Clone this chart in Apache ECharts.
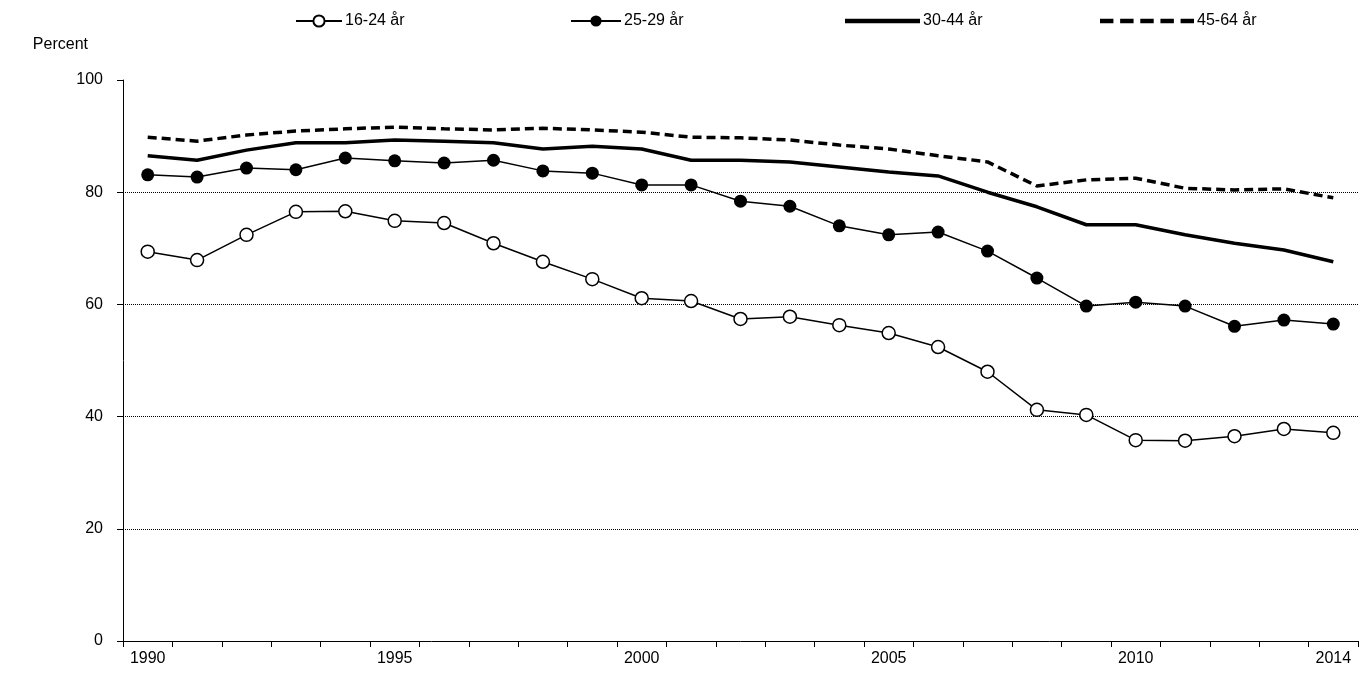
<!DOCTYPE html>
<html><head><meta charset="utf-8">
<script src="https://cdn.jsdelivr.net/npm/echarts@6/dist/echarts.min.js"></script>
<style>html,body{margin:0;background:#fff}#c{width:1368px;height:679px}</style>
</head><body><div id="c"></div>
<script>
var years = [];
for (var y = 1990; y <= 2014; y++) years.push(String(y));
var shownYears = ['1990', '1995', '2000', '2005', '2010', '2014'];
var gridLevels = [20, 40, 60, 80];
var s1624 = [69.4, 67.9, 72.4, 76.5, 76.6, 74.9, 74.5, 70.9, 67.6, 64.5, 61.1, 60.6, 57.4, 57.8, 56.3, 54.9, 52.4, 48.0, 41.2, 40.3, 35.8, 35.7, 36.5, 37.8, 37.1];
var s2529 = [83.1, 82.7, 84.3, 84.0, 86.1, 85.6, 85.2, 85.7, 83.8, 83.4, 81.3, 81.3, 78.4, 77.5, 74.0, 72.4, 72.9, 69.5, 64.7, 59.7, 60.4, 59.7, 56.1, 57.2, 56.5];
var s3044 = [86.5, 85.7, 87.5, 88.8, 88.8, 89.3, 89.1, 88.8, 87.7, 88.2, 87.7, 85.7, 85.7, 85.4, 84.5, 83.6, 82.9, 80.0, 77.4, 74.2, 74.2, 72.4, 70.9, 69.7, 67.6];
var s4564 = [89.8, 89.1, 90.2, 90.9, 91.3, 91.6, 91.3, 91.1, 91.4, 91.1, 90.7, 89.8, 89.7, 89.3, 88.4, 87.7, 86.5, 85.4, 81.1, 82.2, 82.5, 80.7, 80.4, 80.6, 79.0];

var chart = echarts.init(document.getElementById('c'));
var font = 'Liberation Sans, Arial, sans-serif';
function ser(name, data, opt) {
	var o = {
		name: name, type: 'line', data: data, animation: false,
		lineStyle: {color: '#000', width: 2},
		itemStyle: {color: '#000'},
		symbol: 'none'
	};
	for (var k in opt) o[k] = opt[k];
	return o;
}
function leg(name, left, icon, w) {
	return {
		top: 8, left: left, itemWidth: w, itemHeight: 14, itemGap: 0,
		textStyle: {fontSize: 16, color: '#000', fontFamily: font, padding: [0, 0, 0, -2]},
		data: icon ? [{name: name, icon: icon}] : [name]
	};
}
chart.setOption({
	textStyle: {fontFamily: font},
	legend: [
		leg('16-24 år', 290, null, 46),
		leg('25-29 år', 565, null, 50),
		leg('30-44 år', 840, 'path://M0,0h70v4h-70z', 75),
		leg('45-64 år', 1095, 'path://M0,0h12v4h-12zM18,0h12v4h-12zM36,0h12v4h-12zM54,0h12v4h-12zM72,0h12v4h-12z', 94)
	],
	grid: {left: 123, right: 10, top: 80, bottom: 38},
	xAxis: {
		type: 'category', data: years, boundaryGap: true,
		axisLine: {lineStyle: {color: '#000'}},
		axisTick: {show: true, interval: 0, length: 6, lineStyle: {color: '#000'}},
		axisLabel: {
			interval: function (i, v) { return shownYears.indexOf(v) >= 0; },
			color: '#000', fontSize: 16, margin: 10
		}
	},
	yAxis: {
		type: 'value', min: 0, max: 100, interval: 20,
		name: 'Percent', nameLocation: 'end', nameGap: 27,
		nameTextStyle: {color: '#000', fontSize: 16, align: 'right', padding: [0, 35, 0, 0]},
		axisLine: {show: true, lineStyle: {color: '#000'}},
		axisTick: {show: true, length: 6, lineStyle: {color: '#000'}},
		axisLabel: {color: '#000', fontSize: 16, margin: 20},
		splitLine: {show: false}
	},
	series: [
		ser('16-24 år', s1624, {symbol: 'circle', symbolSize: 13, lineStyle: {color: '#000', width: 1.5},
			itemStyle: {color: '#fff', borderColor: '#000', borderWidth: 1.5}, z: 5,
			markLine: {silent: true, symbol: 'none', label: {show: false}, animation: false,
				lineStyle: {color: '#000', type: 'dotted', width: 1},
				data: gridLevels.map(function (v) { return {yAxis: v}; })}}),
		ser('25-29 år', s2529, {symbol: 'circle', symbolSize: 13, lineStyle: {color: '#000', width: 1.5}, z: 4}),
		ser('30-44 år', s3044, {lineStyle: {color: '#000', width: 3.5}}),
		ser('45-64 år', s4564, {lineStyle: {color: '#000', width: 3.5, type: [9, 5]}})
	]
});
</script></body></html>
